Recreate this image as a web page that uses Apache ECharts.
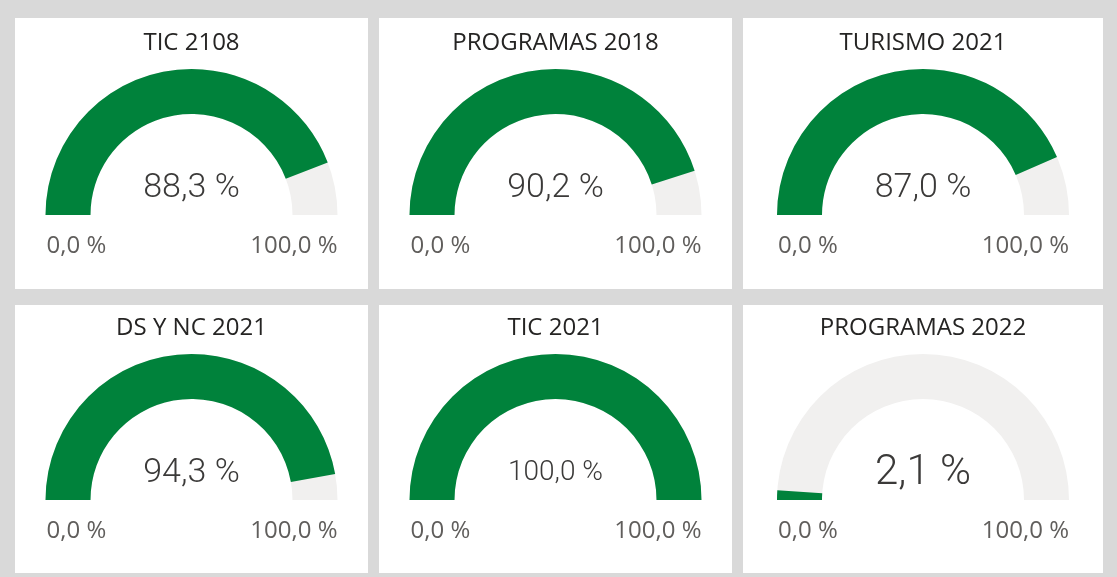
<!DOCTYPE html>
<html>
<head>
<meta charset="utf-8">
<script src="https://cdn.jsdelivr.net/npm/echarts@6/dist/echarts.min.js"></script>
<style>
  html, body { margin: 0; padding: 0; background: #d9d9d9; }
  #chart { width: 1117px; height: 577px; }
</style>
</head>
<body>
<div id="chart"></div>
<script>
// ---- data ----
const titles = ['TIC 2108', 'PROGRAMAS 2018', 'TURISMO 2021', 'DS Y NC 2021', 'TIC 2021', 'PROGRAMAS 2022'];
const values = [88.3, 90.2, 87.0, 94.3, 100.0, 2.1];
const axisRange = [0, 100];
const tickLabels = ['0,0 %', '100,0 %'];

// ---- layout ----
const cols = [[15, 368], [379, 732], [743, 1103]];
const rows = [[18, 289], [305, 573]];
const gaugeBase = [215, 500];     // y of the gauge baseline per row
const outerR = 146, ringW = 45;
const green = '#00823B', track = '#F1F0EF';

function fmt(v) { return v.toFixed(1).replace('.', ',') + ' %'; }

const measureCtx = document.createElement('canvas').getContext('2d');
function fitFont(text, width, weight, family) {
  measureCtx.font = weight + ' 100px ' + family;
  return Math.round(100 * width / measureCtx.measureText(text).width);
}

const chart = echarts.init(document.getElementById('chart'), null, { renderer: 'canvas' });
const graphics = [];
const series = [];

titles.forEach((t, i) => {
  const c = cols[i % 3], r = rows[Math.floor(i / 3)];
  const cx = (c[0] + c[1]) / 2;
  const cy = gaugeBase[Math.floor(i / 3)];
  graphics.push({
    type: 'rect', silent: true, z: 0,
    shape: { x: c[0], y: r[0], width: c[1] - c[0], height: r[1] - r[0] },
    style: { fill: '#ffffff' }
  });
  graphics.push({
    type: 'text', z: 10, silent: true,
    x: cx - outerR + 1, y: cy + 31,
    style: { text: tickLabels[0], font: '24px "Open Sans"', fill: '#605E5C', textAlign: 'left', textVerticalAlign: 'middle' }
  });
  graphics.push({
    type: 'text', z: 10, silent: true,
    x: cx + outerR, y: cy + 31,
    style: { text: tickLabels[1], font: '24px "Open Sans"', fill: '#605E5C', textAlign: 'right', textVerticalAlign: 'middle' }
  });
  const txt = fmt(values[i]);
  series.push({
    type: 'gauge',
    center: [cx, cy],
    radius: outerR,
    startAngle: 180, endAngle: 0,
    min: axisRange[0], max: axisRange[1],
    splitNumber: 1,
    z: 5,
    axisLine: { lineStyle: { width: ringW, color: [[1, track]] } },
    progress: { show: true, width: ringW, roundCap: false, itemStyle: { color: green } },
    pointer: { show: false },
    anchor: { show: false },
    axisTick: { show: false },
    splitLine: { show: false },
    axisLabel: { show: false },
    title: {
      show: true, offsetCenter: [0, -172],
      fontFamily: 'Open Sans', fontSize: 24, color: '#252423'
    },
    detail: {
      show: true, offsetCenter: [0, -27],
      fontFamily: 'Roboto', fontWeight: 300,
      fontSize: fitFont(txt, 96, 300, 'Roboto'),
      color: '#3b3a39',
      formatter: v => fmt(v),
      valueAnimation: false
    },
    data: [{ value: values[i], name: t }]
  });
});

chart.setOption({
  backgroundColor: '#d9d9d9',
  animation: false,
  graphic: graphics,
  series: series
});
</script>
</body>
</html>
